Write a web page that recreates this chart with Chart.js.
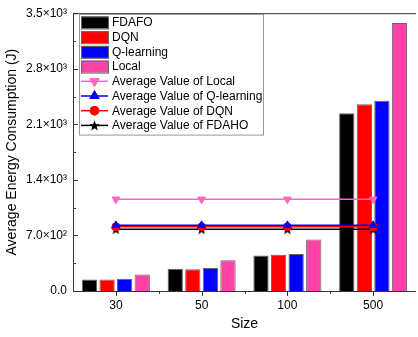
<!DOCTYPE html>
<html>
<head>
<meta charset="utf-8">
<script src="https://cdn.jsdelivr.net/npm/chart.js@4.4.1/dist/chart.umd.min.js"></script>
<style>
  html, body { margin: 0; padding: 0; background: #fff; overflow: hidden; }
  #wrap { width: 422px; height: 337px; position: relative; }
</style>
</head>
<body>
<div id="wrap"><canvas id="chart"></canvas></div>
<script>
// energy consumption per method and network size
const sizes = ["30", "50", "100", "500"];
const fdafo = [146, 279, 446, 2241];
const dqn = [146, 275, 458, 2354];
const qlearning = [154, 291, 466, 2396];
const local = [209, 388, 650, 3375];

// average values drawn as flat lines
const avgLocal = [1155, 1155, 1155, 1155];
const avgQlearning = [827, 827, 827, 827];
const avgDqn = [808, 808, 808, 808];
const avgFdaho = [778, 778, 778, 778];

const yTicks = [0, 700, 1400, 2100, 2800, 3500];
const yTickLabels = ["0.0", "7.0×10²", "1.4×10³", "2.1×10³", "2.8×10³", "3.5×10³"];

const FONT = "'Liberation Sans', Arial, sans-serif";

// filled five point star, chart.js "star" is only an asterisk
function makeStar(size, color) {
  const c = document.createElement("canvas");
  c.width = size;
  c.height = size;
  const g = c.getContext("2d");
  const cx = size / 2, cy = size / 2 + 0.5, R = size / 2, r = R * 0.42;
  g.beginPath();
  for (let k = 0; k < 10; k++) {
    const ang = -Math.PI / 2 + k * Math.PI / 5;
    const rad = k % 2 === 0 ? R : r;
    g.lineTo(cx + rad * Math.cos(ang), cy + rad * Math.sin(ang));
  }
  g.closePath();
  g.fillStyle = color;
  g.fill();
  return c;
}
const starImg = makeStar(11, "#000");

// axes frame + inner ticks, Origin style
const framePlugin = {
  id: "frame",
  afterDatasetsDraw(chart) {
    const { ctx, chartArea: a, scales } = chart;
    ctx.save();
    ctx.strokeStyle = "#333";
    ctx.lineWidth = 1;
    ctx.beginPath();
    ctx.moveTo(a.left + 0.5, a.top);
    ctx.lineTo(a.left + 0.5, a.bottom + 0.5);
    ctx.lineTo(a.right, a.bottom + 0.5);
    ctx.moveTo(a.left, a.top + 0.5);
    ctx.lineTo(a.right, a.top + 0.5);
    // y ticks inside
    for (let v = 0; v <= 3500; v += 350) {
      const y = Math.round(scales.y.getPixelForValue(v)) + 0.5;
      const len = v % 700 === 0 ? 5 : 3;
      ctx.moveTo(a.left, y);
      ctx.lineTo(a.left + len, y);
    }
    // x ticks: centres go down, boundaries small down
    sizes.forEach((s, i) => {
      const x = Math.round(scales.x.getPixelForValue(i)) + 0.5;
      ctx.moveTo(x, a.bottom);
      ctx.lineTo(x, a.bottom + 5);
      if (i > 0) {
        const xb = Math.round((scales.x.getPixelForValue(i) + scales.x.getPixelForValue(i - 1)) / 2) + 0.5;
        ctx.moveTo(xb, a.bottom);
        ctx.lineTo(xb, a.bottom + 3);
      }
    });
    ctx.stroke();
    ctx.restore();
  }
};

// legend box inside the plot, upper left
const legendPlugin = {
  id: "boxLegend",
  afterDraw(chart) {
    const { ctx } = chart;
    const x0 = 79, y0 = 14, w = 184, rowH = 14.7;
    const n = chart.data.datasets.length;
    ctx.save();
    ctx.fillStyle = "#fff";
    ctx.fillRect(x0, y0, w, n * rowH + 3);
    ctx.strokeStyle = "#999";
    ctx.lineWidth = 1;
    ctx.strokeRect(x0 + 0.5, y0 + 0.5, w, n * rowH + 3);
    ctx.font = "12px " + FONT;
    ctx.textBaseline = "middle";
    chart.data.datasets.forEach((ds, i) => {
      const cy = y0 + 8.5 + i * rowH;
      if (ds.type === "line") {
        ctx.strokeStyle = ds.borderColor;
        ctx.lineWidth = 1.5;
        ctx.beginPath();
        ctx.moveTo(x0 + 2, cy);
        ctx.lineTo(x0 + 29, cy);
        ctx.stroke();
        if (ds.pointStyle instanceof HTMLCanvasElement) {
          const im = ds.pointStyle;
          ctx.drawImage(im, x0 + 15.5 - im.width / 2, cy - im.height / 2);
        } else {
          Chart.helpers.drawPoint(ctx, {
            pointStyle: ds.pointStyle,
            rotation: ds.pointRotation || 0,
            radius: ds.pointRadius,
            borderWidth: 1
          }, x0 + 15.5, cy);
          ctx.fillStyle = ds.pointBackgroundColor;
          ctx.strokeStyle = ds.pointBorderColor;
          ctx.fill();
          ctx.stroke();
        }
      } else {
        ctx.fillStyle = ds.backgroundColor;
        ctx.strokeStyle = "#666";
        ctx.lineWidth = 1;
        ctx.fillRect(x0 + 2, cy - 6, 27, 12);
        ctx.strokeRect(x0 + 2.5, cy - 5.5, 27, 12);
      }
      ctx.fillStyle = "#000";
      ctx.fillText(ds.label, x0 + 33, cy + 0.5);
    });
    ctx.restore();
  }
};

function barSet(label, data, color) {
  return {
    type: "bar", label, data,
    backgroundColor: color,
    borderColor: "#666",
    borderWidth: 1,
    categoryPercentage: 0.82,
    barPercentage: 0.87,
    order: 2
  };
}

function lineSet(label, data, color, pointStyle, rotation, radius) {
  return {
    type: "line", label, data,
    borderColor: color,
    borderWidth: 1.5,
    backgroundColor: color,
    pointBackgroundColor: color,
    pointBorderColor: color,
    pointStyle,
    pointRotation: rotation,
    pointRadius: radius,
    pointBorderWidth: 1,
    order: 1
  };
}

new Chart(document.getElementById("chart"), {
  data: {
    labels: sizes,
    datasets: [
      barSet("FDAFO", fdafo, "#000000"),
      barSet("DQN", dqn, "#ff0000"),
      barSet("Q-learning", qlearning, "#0000ff"),
      barSet("Local", local, "#fd44a6"),
      lineSet("Average Value of Local", avgLocal, "#ff66c0", "triangle", 180, 4.5),
      lineSet("Average Value of Q-learning", avgQlearning, "#0000ff", "triangle", 0, 4.5),
      lineSet("Average Value of DQN", avgDqn, "#ff0000", "circle", 0, 4),
      lineSet("Average Value of FDAHO", avgFdaho, "#000000", starImg, 0, 5)
    ]
  },
  options: {
    responsive: true,
    maintainAspectRatio: false,
    animation: false,
    layout: { padding: { top: 11, right: 2, left: 0, bottom: 0 } },
    plugins: {
      legend: { display: false },
      tooltip: { enabled: false }
    },
    scales: {
      x: {
        type: "category",
        offset: true,
        grid: { display: false, drawTicks: false },
        border: { display: false },
        ticks: { color: "#000", font: { family: FONT, size: 12 }, padding: 7 },
        title: { display: true, text: "Size", color: "#000", font: { family: FONT, size: 14 }, padding: { top: 6 } },
        afterFit(s) { s.height = 46; }
      },
      y: {
        min: 0,
        max: 3500,
        afterBuildTicks(s) { s.ticks = yTicks.map(v => ({ value: v })); },
        grid: { display: false, drawTicks: false },
        border: { display: false },
        ticks: {
          color: "#000",
          font: { family: FONT, size: 12 },
          padding: 6,
          callback: (v) => yTickLabels[yTicks.indexOf(v)]
        },
        title: { display: true, text: "Average Energy Consumption (J)", color: "#000", font: { family: FONT, size: 14 }, padding: { bottom: 2 } },
        afterFit(s) { s.width = 73; }
      }
    }
  },
  plugins: [framePlugin, legendPlugin]
});
</script>
</body>
</html>
